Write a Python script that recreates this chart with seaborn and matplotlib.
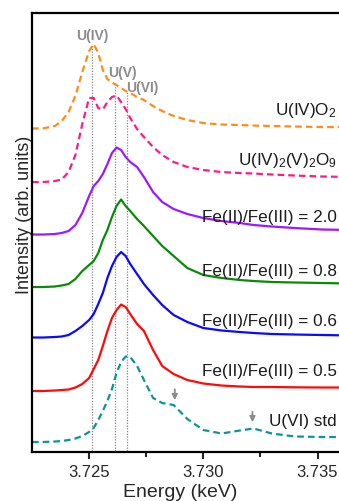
import pandas as pd
import matplotlib.pyplot as plt
import seaborn as sns
import numpy as np

# energy grid (keV) shared by all spectra
energy = [3.7225, 3.7230, 3.7235, 3.7238, 3.7241, 3.7244, 3.7247, 3.7250, 3.7252, 3.7254,
          3.7256, 3.7258, 3.7260, 3.7262, 3.7264, 3.7266, 3.7268, 3.7271, 3.7274, 3.7278,
          3.7282, 3.7287, 3.7293, 3.7300, 3.7308, 3.7316, 3.7322, 3.7330, 3.7340, 3.7352, 3.7365]

# stacked intensities (arb. units)
uo2 = [3.225, 3.227, 3.25, 3.30, 3.39, 3.55, 3.79, 4.00, 4.07, 3.98, 3.81, 3.72, 3.685, 3.66, 3.63,
       3.60, 3.58, 3.54, 3.51, 3.45, 3.40, 3.35, 3.31, 3.28, 3.265, 3.26, 3.255, 3.25, 3.245, 3.24, 3.24]
u4o9 = [2.69, 2.69, 2.70, 2.715, 2.79, 2.96, 3.27, 3.53, 3.53, 3.43, 3.415, 3.49, 3.54, 3.555, 3.49,
        3.42, 3.33, 3.22, 3.14, 3.04, 2.96, 2.89, 2.84, 2.81, 2.79, 2.78, 2.775, 2.765, 2.755, 2.745, 2.74]
fe20 = [2.165, 2.165, 2.17, 2.18, 2.20, 2.26, 2.38, 2.55, 2.65, 2.70, 2.77, 2.87, 2.98, 3.035, 3.01,
        2.94, 2.89, 2.84, 2.74, 2.59, 2.49, 2.42, 2.37, 2.33, 2.30, 2.28, 2.26, 2.245, 2.23, 2.215, 2.21]
fe08 = [1.64, 1.64, 1.645, 1.655, 1.67, 1.72, 1.80, 1.86, 1.90, 1.98, 2.11, 2.21, 2.34, 2.45, 2.515,
        2.45, 2.40, 2.32, 2.25, 2.15, 2.05, 1.95, 1.83, 1.76, 1.73, 1.71, 1.70, 1.69, 1.685, 1.68, 1.675]
fe06 = [1.135, 1.135, 1.14, 1.145, 1.16, 1.20, 1.25, 1.31, 1.37, 1.47, 1.58, 1.73, 1.85, 1.94, 1.99,
        1.95, 1.87, 1.77, 1.67, 1.56, 1.46, 1.36, 1.29, 1.23, 1.205, 1.19, 1.18, 1.17, 1.165, 1.16, 1.155]
fe05 = [0.60, 0.60, 0.605, 0.61, 0.615, 0.635, 0.67, 0.73, 0.82, 0.91, 1.05, 1.20, 1.33, 1.41, 1.465,
        1.44, 1.37, 1.27, 1.20, 1.01, 0.85, 0.77, 0.71, 0.675, 0.655, 0.645, 0.64, 0.64, 0.637, 0.635, 0.635]
u6std = [0.09, 0.09, 0.095, 0.10, 0.11, 0.125, 0.15, 0.19, 0.23, 0.31, 0.40, 0.50, 0.62, 0.78, 0.89,
         0.945, 0.94, 0.85, 0.71, 0.53, 0.48, 0.46, 0.32, 0.21, 0.175, 0.205, 0.225, 0.175, 0.145, 0.14, 0.14]

names = ['U(IV)O$_2$', 'U(IV)$_2$(V)$_2$O$_9$', 'Fe(II)/Fe(III) = 2.0', 'Fe(II)/Fe(III) = 0.8',
         'Fe(II)/Fe(III) = 0.6', 'Fe(II)/Fe(III) = 0.5', 'U(VI) std']
spectra = [uo2, u4o9, fe20, fe08, fe06, fe05, u6std]
colors = ['#ff8c1a', '#ff1a8c', '#9b1aff', '#0a8a0a', '#0a0aff', '#ff0a0a', '#0d9494']
dashed = [True, True, False, False, False, False, True]
label_y = [3.41, 2.91, 2.34, 1.80, 1.30, 0.80, 0.30]

# oxidation state reference energies and label positions
ref_e = [3.72513, 3.72614, 3.72668]
ref_top = [4.07, 3.66, 3.59]
ref_lbl = ['U(IV)', 'U(V)', 'U(VI)']
ref_lbl_xy = [(3.72516, 4.15), (3.72648, 3.78), (3.72735, 3.63)]
# arrows on U(VI) std features
arrow_e = [3.72875, 3.73215]
arrow_y = [(0.645, 0.48), (0.42, 0.26)]

rows = []
for n, s in zip(names, spectra):
    for e, v in zip(energy, s):
        rows.append((n, e, v))
df = pd.DataFrame(rows, columns=['sample', 'energy', 'intensity'])

sns.set_theme(style='white')
plt.rcParams['font.family'] = ['Liberation Sans', 'DejaVu Sans']
plt.rcParams['mathtext.fontset'] = 'custom'
plt.rcParams['mathtext.rm'] = 'Liberation Sans'
plt.rcParams['mathtext.it'] = 'Liberation Sans'

fig = plt.figure(figsize=(3.39, 5.01), dpi=100)
ax = fig.add_axes([0.0944, 0.0978, 0.9434, 0.8762])

sns.lineplot(data=df, x='energy', y='intensity', hue='sample', style='sample',
             hue_order=names, style_order=names,
             palette=dict(zip(names, colors)),
             dashes={n: ((3, 1.8) if d else '') for n, d in zip(names, dashed)},
             estimator=None, sort=True, lw=1.6, legend=False, ax=ax)

ax.vlines(ref_e, 0, ref_top, colors='#888888', linestyles=(0, (1, 1.2)), lw=0.9, zorder=0)
for t, (x, y) in zip(ref_lbl, ref_lbl_xy):
    ax.text(x, y, t, ha='center', va='center', fontsize=10, fontweight='bold', color='#8c8c8c')

for n, y in zip(names, label_y):
    ax.text(3.73584, y, n, ha='right', va='center', fontsize=12.3, color='#1a1a1a')

for e, (y0, y1) in zip(arrow_e, arrow_y):
    ax.annotate('', xy=(e, y1), xytext=(e, y0),
                arrowprops=dict(arrowstyle='-|>', color='#8c8c8c', lw=1.3, mutation_scale=8))

ax.set_xlim(3.7225, 3.7365)
ax.set_ylim(-0.01, 4.38)
ax.set_xticks([3.725, 3.730, 3.735])
ax.set_xticklabels(['3.725', '3.730', '3.735'], fontsize=12)
ax.set_xticks([3.7275, 3.7325], minor=True)
ax.set_yticks([])
ax.tick_params(axis='x', which='major', direction='out', length=5, width=1.5, bottom=True, pad=4)
ax.tick_params(axis='x', which='minor', direction='out', length=3.5, width=1.5, bottom=True)
for sp in ax.spines.values():
    sp.set_linewidth(1.6)
    sp.set_color('black')

ax.set_xlabel('Energy (keV)', fontsize=14)
ax.set_ylabel('Intensity (arb. units)', fontsize=13)
ax.xaxis.set_label_coords((180.5 - 32) / 319.8, -0.072)
ax.yaxis.set_label_coords(0.004, 0.54)

plt.savefig('out.png', dpi=100)
